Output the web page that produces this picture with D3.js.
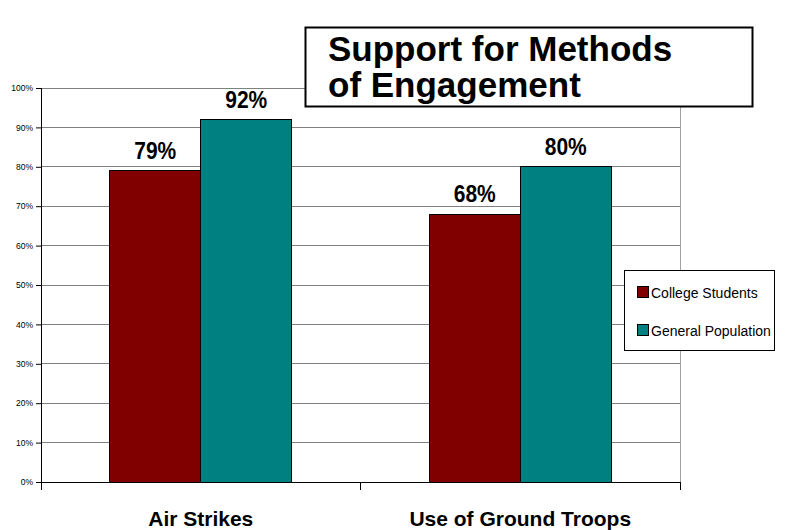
<!DOCTYPE html>
<html><head><meta charset="utf-8">
<script src="https://cdn.jsdelivr.net/npm/d3@7"></script>
<style>body{margin:0;background:#fff}svg{display:block;font-family:Arial,"Liberation Sans",sans-serif}</style>
</head><body>
<svg id="c" width="803" height="530"></svg>
<script>
const categories = ["Air Strikes", "Use of Ground Troops"];
const seriesNames = ["College Students", "General Population"];
const collegeStudents = [79, 68];
const generalPopulation = [92, 80];
const yTicks = [0,10,20,30,40,50,60,70,80,90,100];
const colors = ["#800000", "#008080"];
const titleLines = ["Support for Methods", "of Engagement"];

const svg = d3.select("#c");
const m = {l:41, r:680, t:88, b:482};
const x = d3.scaleBand().domain(categories).range([m.l, m.r]).paddingInner(0).paddingOuter(0);
const xs = d3.scaleBand().domain(seriesNames).range([0, x.bandwidth()]).paddingInner(0).paddingOuter(0.755);
const y = d3.scaleLinear().domain([0,100]).range([m.b, m.t]);

// gridlines
svg.append("g").selectAll("line").data(yTicks.slice(1)).join("line")
  .attr("x1", m.l).attr("x2", m.r).attr("y1", d=>y(d)).attr("y2", d=>y(d))
  .attr("stroke", "#808080").attr("stroke-width", 1).attr("shape-rendering","crispEdges");
// right border
svg.append("line").attr("x1", m.r).attr("x2", m.r).attr("y1", m.t).attr("y2", m.b)
  .attr("stroke", "#a0a0a0").attr("shape-rendering","crispEdges");

// bars
const data = categories.map((c,i)=>({c, vals:[collegeStudents[i], generalPopulation[i]]}));
const g = svg.append("g");
data.forEach(d=>{
  d.vals.forEach((v,j)=>{
    const bx = x(d.c) + xs(seriesNames[j]);
    g.append("rect").attr("x", bx).attr("y", y(v)).attr("width", xs.bandwidth()).attr("height", y(0)-y(v))
      .attr("fill", colors[j]).attr("stroke", "#000").attr("stroke-width", 1).attr("shape-rendering","crispEdges");
    g.append("text").attr("x", bx + xs.bandwidth()/2).attr("y", y(v) - 12)
      .attr("text-anchor","middle").attr("font-weight","bold").attr("font-size", 24)
      .attr("textLength", 42).attr("lengthAdjust","spacingAndGlyphs").text(v + "%");
  });
});

// y axis
const yAxis = d3.axisLeft(y).tickValues(yTicks).tickFormat(d=>d+"%").tickSize(5).tickPadding(3);
const ya = svg.append("g").attr("transform", `translate(${m.l},0)`).call(yAxis);
ya.select(".domain").remove();
ya.selectAll("text").attr("font-size", 8.5).attr("font-family","Arial, 'Liberation Sans', sans-serif").attr("fill","#000");
svg.append("line").attr("x1", m.l).attr("x2", m.l).attr("y1", m.t).attr("y2", m.b + 8).attr("stroke","#000").attr("shape-rendering","crispEdges");

// x axis
svg.append("line").attr("x1", m.l).attr("x2", m.r).attr("y1", m.b).attr("y2", m.b).attr("stroke","#000").attr("shape-rendering","crispEdges");
const bounds = [m.l].concat(categories.map(c=>x(c)+x.bandwidth()));
svg.append("g").selectAll("line").data(bounds).join("line")
  .attr("x1", d=>d).attr("x2", d=>d).attr("y1", m.b).attr("y2", m.b+8).attr("stroke","#000").attr("shape-rendering","crispEdges");
svg.append("g").selectAll("text").data(categories).join("text")
  .attr("x", d=>x(d)+x.bandwidth()/2).attr("y", 526).attr("text-anchor","middle")
  .attr("font-weight","bold").attr("font-size", 21).text(d=>d);

// title box
svg.append("rect").attr("x", 305.5).attr("y", 27.5).attr("width", 447).attr("height", 79)
  .attr("fill","#fff").attr("stroke","#000").attr("stroke-width", 2);
svg.append("g").selectAll("text").data(titleLines).join("text")
  .attr("x", 328).attr("y", (d,i)=>61 + i*36).attr("font-weight","bold").attr("font-size", 35).text(d=>d);

// legend
const lg = svg.append("g");
lg.append("rect").attr("x", 624.5).attr("y", 270.5).attr("width", 150).attr("height", 80)
  .attr("fill","#fff").attr("stroke","#000").attr("stroke-width", 1);
seriesNames.forEach((s,i)=>{
  const yy = 293 + i*38;
  lg.append("rect").attr("x", 637.5).attr("y", yy-6.5).attr("width", 11).attr("height", 11)
    .attr("fill", colors[i]).attr("stroke","#000").attr("stroke-width",1);
  lg.append("text").attr("x", 651).attr("y", yy+5).attr("font-size", 14).text(s);
});
</script>
</body></html>
